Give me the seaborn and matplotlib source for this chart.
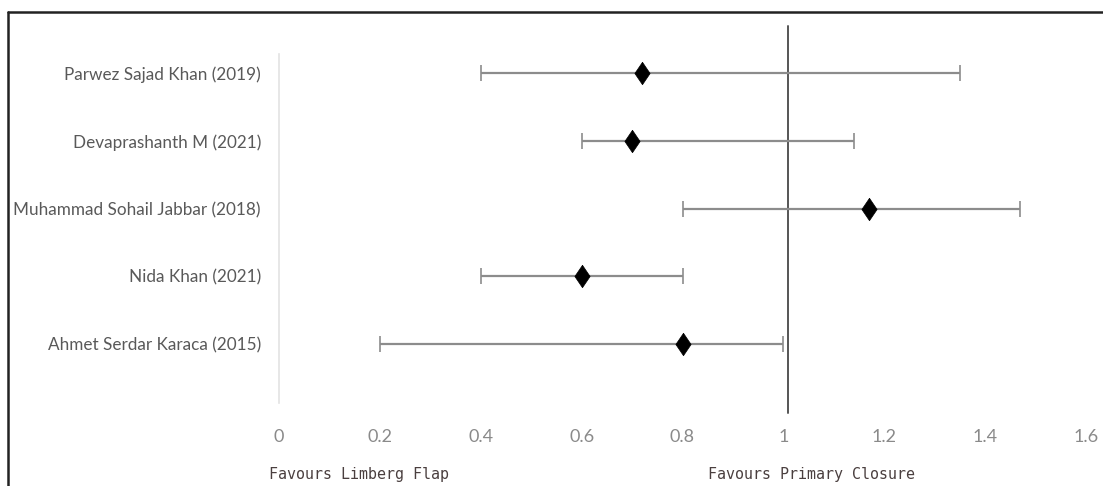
import matplotlib
matplotlib.use("Agg")
import matplotlib.pyplot as plt
from matplotlib.lines import Line2D
import seaborn as sns
import pandas as pd

studies = ["Parwez Sajad Khan (2019)", "Devaprashanth M (2021)",
           "Muhammad Sohail Jabbar (2018)", "Nida Khan (2021)",
           "Ahmet Serdar Karaca (2015)"]
estimate = [0.72, 0.70, 1.17, 0.60, 0.80]
ci_low = [0.40, 0.60, 0.80, 0.40, 0.20]
ci_high = [1.35, 1.14, 1.47, 0.80, 1.00]
x_ticks = [0, 0.2, 0.4, 0.6, 0.8, 1, 1.2, 1.4, 1.6]
x_tick_labels = ["0", "0.2", "0.4", "0.6", "0.8", "1", "1.2", "1.4", "1.6"]
ref_line = 1.01
left_note = "Favours Limberg Flap"
right_note = "Favours Primary Closure"

sns.set_theme(style="white")
plt.rcParams['font.family'] = ['Lato', 'DejaVu Sans']

df = pd.DataFrame({"study": studies, "est": estimate, "lo": ci_low, "hi": ci_high})
df["pos"] = range(len(df))

W, H = 1103, 486
fig = plt.figure(figsize=(W / 100, H / 100), dpi=100)
ax = fig.add_axes([279 / W, 1 - 403 / H, (1086 - 279) / W, (403 - 54) / H])

# CI lines
ax.errorbar(df["est"], df["pos"],
            xerr=[df["est"] - df["lo"], df["hi"] - df["est"]],
            fmt="none", ecolor="#8c8c8c", elinewidth=1.6, capsize=5.5,
            capthick=1.2, zorder=2)

# reference line
ax.plot([ref_line, ref_line], [-0.69, 5.02], color="#555555", lw=1.4,
        clip_on=False, zorder=1)

diamond = [(0, 1), (0.68, 0), (0, -1), (-0.68, 0), (0, 1)]
sns.scatterplot(data=df, x="est", y="pos", marker=diamond, s=260,
                color="black", edgecolor="black", linewidth=0.5, ax=ax, zorder=3)

ax.set_xlim(0, 1.6)
ax.set_ylim(4.87, -0.28)
ax.set_xticks(x_ticks)
ax.set_xticklabels(x_tick_labels)
ax.set_yticks(df["pos"])
ax.set_yticklabels(df["study"])
ax.set_xlabel("")
ax.set_ylabel("")
ax.tick_params(axis="x", length=0, pad=19, labelsize=13, labelcolor="#8a8a8a")
ax.tick_params(axis="y", length=0, pad=13, labelsize=12.3, labelcolor="#595959")
for s in ["top", "right", "bottom"]:
    ax.spines[s].set_visible(False)
ax.spines["left"].set_color("#e3e3e3")
ax.spines["left"].set_linewidth(1.2)

mono = ["DejaVu Sans Mono"]
fig.text(359 / W, 1 - 474 / H, left_note, ha="center", va="center",
         fontsize=10.8, color="#4a3f3f", family=mono)
fig.text(811 / W, 1 - 474 / H, right_note, ha="center", va="center",
         fontsize=10.8, color="#4a3f3f", family=mono)

# frame (top and left edges visible in reference)
fig.add_artist(Line2D([8 / W, 8 / W], [0, 1 - 12 / H], color="#222222", lw=1.8,
                      transform=fig.transFigure))
fig.add_artist(Line2D([8 / W, 1], [1 - 12 / H, 1 - 12 / H], color="#222222", lw=1.8,
                      transform=fig.transFigure))

fig.savefig("out.png", dpi=100, facecolor="white")
